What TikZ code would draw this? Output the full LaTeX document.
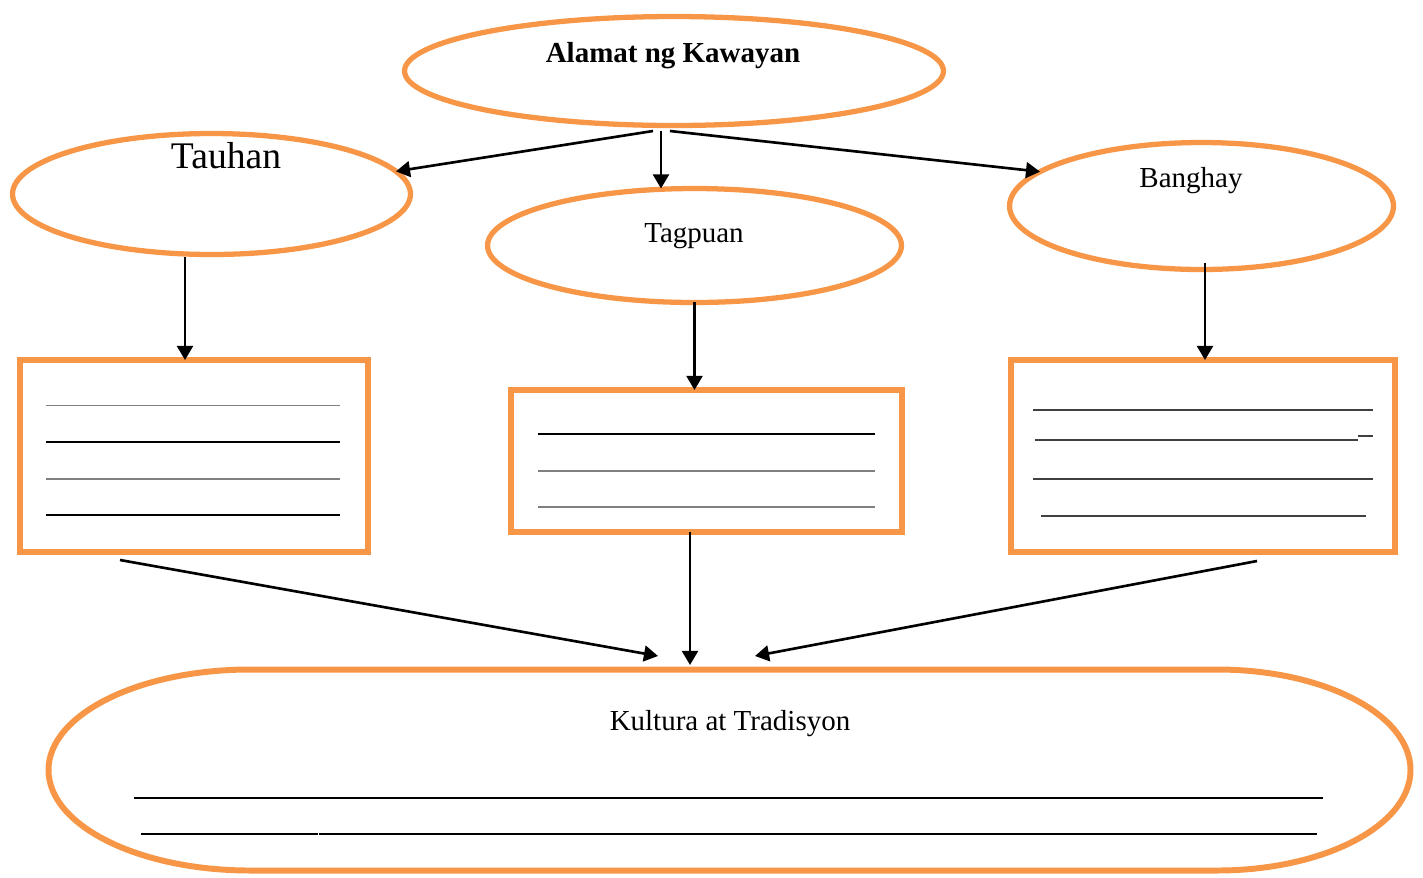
\documentclass[tikz,border=0pt]{standalone}
\usepackage{fontspec}
\setmainfont{Liberation Serif}
\usetikzlibrary{shapes.geometric,arrows.meta}
\definecolor{kwOrange}{RGB}{247,150,70}
\definecolor{kwDark}{RGB}{64,64,64}
\tikzset{
  kwell/.style={draw=kwOrange,line width=3pt,ellipse,inner sep=0pt,outer sep=0pt},
  kwbox/.style={draw=kwOrange,line width=3.4pt,rectangle,inner sep=0pt,outer sep=0pt},
  kwarr/.style={line width=1.5pt,-{Triangle[length=8pt,width=9pt]}},
  kwtxt/.style={anchor=base,inner sep=0pt,font=\fontsize{16.5}{18}\selectfont},
  kwln/.style={line width=1.1pt},
}
\begin{document}
\begin{tikzpicture}[x=0.02cm,y=-0.02cm]
\useasboundingbox (0,0) rectangle (1423,877);
\node[kwell,minimum width=10.78cm,minimum height=2.18cm] (alamat) at (674,71) {};
\node[kwell,minimum width=7.96cm,minimum height=2.42cm] (tauhan) at (211.5,194) {};
\node[kwell,minimum width=8.28cm,minimum height=2.28cm] (tagpuan) at (694.5,245.5) {};
\node[kwell,minimum width=7.68cm,minimum height=2.54cm] (banghay) at (1201.5,206) {};
\node[kwtxt,font={\fontsize{16.5}{18}\selectfont\bfseries}] (alamatlbl) at (673,62) {Alamat ng Kawayan};
\node[kwtxt,font=\fontsize{21.4}{24}\selectfont] (tauhanlbl) at (226,168) {Tauhan};
\node[kwtxt] (tagpuanlbl) at (694,242) {Tagpuan};
\node[kwtxt] (banghaylbl) at (1191,187) {Banghay};
\node[kwbox,minimum width=6.96cm,minimum height=3.84cm] (tauhanbox) at (194,456) {};
\node[kwbox,minimum width=7.82cm,minimum height=2.84cm] (tagpuanbox) at (706.5,461) {};
\node[kwbox,minimum width=7.68cm,minimum height=3.84cm] (banghaybox) at (1203,456) {};
\foreach \ly/\lc in {405.5/gray,442/black,479/gray,515/black}{\draw[kwln,\lc](46,\ly)--(340,\ly);}
\foreach \ly/\lc in {434/black,470.7/gray,506.7/gray}{\draw[kwln,\lc](538,\ly)--(875,\ly);}
\foreach \xa/\xb/\ly in {1033/1373/410,1035/1358/439.7,1033/1373/479,1041/1366/515.7}{\draw[kwln,kwDark](\xa,\ly)--(\xb,\ly);}
\draw[kwln,kwDark](1358,436)--(1373,436);
\draw[draw=kwOrange,line width=3.4pt] (250,669.5) -- (1217,669.5) arc[start angle=-90,end angle=90,x radius=193.5,y radius=100.5] -- (250,870.5) arc[start angle=90,end angle=270,x radius=201.5,y radius=100.5] -- cycle;
\node[kwtxt] (kultura) at (730,730) {Kultura at Tradisyon};
\draw[kwln](134,797.7)--(1323,797.7);
\draw[kwln](141,833.7)--(317.5,833.7);
\draw[kwln](318.5,833.7)--(1317,833.7);
\coordinate (alamatL) at (653,131);
\coordinate (alamatM) at (661,131);
\coordinate (alamatR) at (670,131);
\coordinate (tauhanout) at (185,257);
\coordinate (banghayout) at (1205,263);
\coordinate (tauhanboxout) at (120,560);
\coordinate (tagpuanboxout) at (690,532);
\coordinate (banghayboxout) at (1257,561);
\coordinate (kulturaL) at (658,656);
\coordinate (kulturaM) at (690,665);
\coordinate (kulturaR) at (755,656);
\draw[kwarr] (alamatL) -- (tauhan.7);
\draw[kwarr] (alamatM) -- (alamatM |- tagpuan.north);
\draw[kwarr] (alamatR) -- (banghay.168.6);
\draw[kwarr] (tauhanout) -- (tauhanout |- tauhanbox.north);
\draw[kwarr] (tagpuan.south) -- (tagpuan.south |- tagpuanbox.north);
\draw[kwarr] (banghayout) -- (banghayout |- banghaybox.north);
\draw[kwarr] (tauhanboxout) -- (kulturaL);
\draw[kwarr] (tagpuanboxout) -- (kulturaM);
\draw[kwarr] (banghayboxout) -- (kulturaR);
\end{tikzpicture}
\end{document}
